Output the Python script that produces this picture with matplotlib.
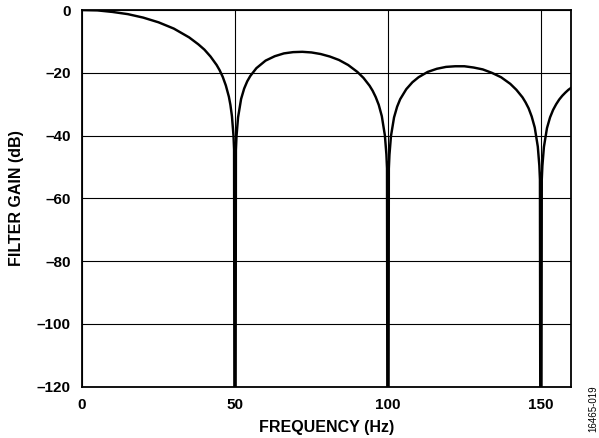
import matplotlib
matplotlib.use('Agg')
import matplotlib.pyplot as plt

plt.rcParams['font.family'] = ['Liberation Sans', 'DejaVu Sans']

# frequency (Hz) and filter gain (dB)
freq = [0, 5, 10, 15, 20, 25, 30, 35, 38, 40, 42, 44, 45, 46, 47, 48, 48.5, 49, 49.5, 49.7, 49.8,
        50.2, 50.3, 50.5, 51, 52, 53, 54, 55, 57, 60, 63, 66, 69, 72, 75, 78, 81, 84, 87, 90, 92, 94,
        95, 96, 97, 98, 99, 99.5, 99.7, 99.8,
        100.2, 100.3, 100.5, 101, 102, 103, 104, 106, 108, 110, 113, 116, 119, 122, 125, 128, 131,
        134, 137, 140, 142, 144, 145, 146, 147, 148, 149, 149.5, 149.7, 149.8,
        150.2, 150.3, 150.5, 151, 152, 153, 154, 155, 156, 157, 158, 159, 160]
gain = [0, -0.1, -0.6, -1.3, -2.4, -3.9, -5.9, -8.7, -10.9, -12.6, -14.8, -17.5, -19.2, -21.3, -24.0,
        -27.6, -30.2, -33.8, -39.9, -44.4, -120,
        -120, -44.6, -40.1, -34.2, -28.3, -25.0, -22.7, -21.0, -18.5, -16.1, -14.7, -13.8, -13.4,
        -13.3, -13.5, -14.0, -14.8, -15.9, -17.5, -19.7, -21.6, -24.1, -25.7, -27.7, -30.2, -33.8,
        -39.9, -46.0, -50.4, -120,
        -120, -50.5, -46.1, -40.1, -34.2, -30.8, -28.4, -25.2, -23.0, -21.4, -19.7, -18.7, -18.1,
        -17.9, -17.9, -18.3, -18.9, -20.0, -21.4, -23.5, -25.4, -27.8, -29.4, -31.3, -33.9, -37.4,
        -43.5, -49.5, -54.0, -120,
        -120, -54.0, -49.6, -43.6, -37.6, -34.2, -31.8, -30.0, -28.5, -27.3, -26.3, -25.4, -24.7]

xticks = [0, 50, 100, 150]
yticks = [0, -20, -40, -60, -80, -100, -120]
ytick_labels = ['0', '–20', '–40', '–60', '–80', '–100', '–120']

fig = plt.figure(figsize=(5.99, 4.38), dpi=100)
ax = fig.add_axes([0.137, 0.117, 0.817, 0.860])

ax.plot(freq, gain, color='black', linewidth=1.75, solid_joinstyle='round', zorder=3)

ax.set_xlim(0, 160)
ax.set_ylim(-120, 0)
ax.set_xticks(xticks)
ax.set_yticks(yticks)
ax.set_yticklabels(ytick_labels)
ax.tick_params(length=0, pad=8, labelsize=11)
for lab in ax.get_xticklabels() + ax.get_yticklabels():
    lab.set_fontweight('bold')

ax.grid(True, color='black', linewidth=0.8)
for s in ax.spines.values():
    s.set_linewidth(1.3)

ax.set_xlabel('FREQUENCY (Hz)', fontsize=11.5, fontweight='bold', labelpad=6)
ax.set_ylabel('FILTER GAIN (dB)', fontsize=11.5, fontweight='bold', labelpad=9)

fig.text(0.990, 0.068, '16465-019', rotation=90, fontsize=7, ha='center', va='center')

fig.savefig('out.png', dpi=100)
